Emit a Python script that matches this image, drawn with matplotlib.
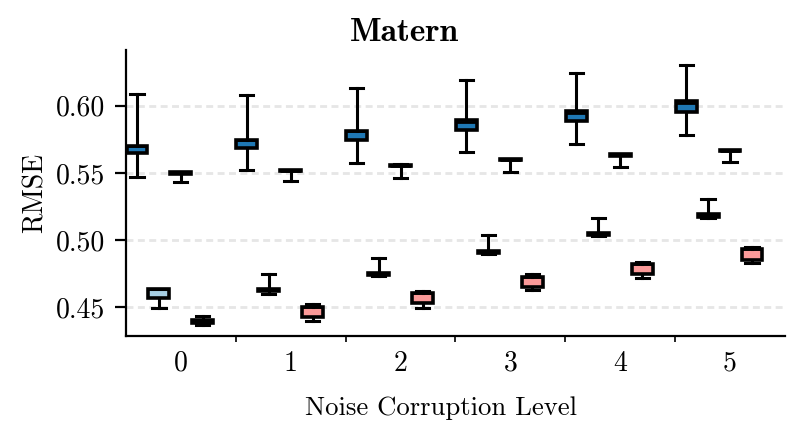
import matplotlib
matplotlib.use("Agg")
from matplotlib import pyplot as plt
from matplotlib.ticker import FixedLocator

plt.rcParams['font.family'] = 'serif'
plt.rcParams['font.serif'] = ['cmr10']
plt.rcParams['mathtext.fontset'] = 'cm'
plt.rcParams['axes.formatter.use_mathtext'] = True
plt.rcParams['font.size'] = 10

levels = [0, 1, 2, 3, 4, 5]

# series 1 (dark blue)
a_lo = [0.5470, 0.5520, 0.5577, 0.5657, 0.5714, 0.5781]
a_q1 = [0.5650, 0.5687, 0.5747, 0.5823, 0.5885, 0.5953]
a_med = [0.5702, 0.5747, 0.5809, 0.5883, 0.5950, 0.6017]
a_q3 = [0.5704, 0.5749, 0.5811, 0.5891, 0.5960, 0.6033]
a_hi = [0.6087, 0.6082, 0.6132, 0.6194, 0.6246, 0.6304]

# series 2 (light blue)
b_lo = [0.4495, 0.4602, 0.4731, 0.4898, 0.5030, 0.5166]
b_q1 = [0.4567, 0.4624, 0.4741, 0.4908, 0.5040, 0.5176]
b_med = [0.4634, 0.4630, 0.4750, 0.4914, 0.5046, 0.5185]
b_q3 = [0.4634, 0.4634, 0.4759, 0.4920, 0.5052, 0.5194]
b_hi = [0.4634, 0.4749, 0.4868, 0.5037, 0.5166, 0.5304]

# series 3 (dark red)
c_lo = [0.5435, 0.5440, 0.5465, 0.5510, 0.5545, 0.5585]
c_q1 = [0.5495, 0.5512, 0.5550, 0.5595, 0.5630, 0.5663]
c_med = [0.5503, 0.5518, 0.5555, 0.5598, 0.5634, 0.5666]
c_q3 = [0.5510, 0.5525, 0.5559, 0.5601, 0.5638, 0.5669]
c_hi = [0.5510, 0.5525, 0.5565, 0.5601, 0.5638, 0.5669]

# series 4 (light red)
d_lo = [0.4372, 0.4400, 0.4497, 0.4627, 0.4721, 0.4828]
d_q1 = [0.4381, 0.4430, 0.4535, 0.4650, 0.4747, 0.4853]
d_med = [0.4410, 0.4505, 0.4604, 0.4729, 0.4824, 0.4933]
d_q3 = [0.4410, 0.4505, 0.4604, 0.4729, 0.4824, 0.4933]
d_hi = [0.4440, 0.4522, 0.4622, 0.4746, 0.4841, 0.4950]

series = [
    (a_lo, a_q1, a_med, a_q3, a_hi, '#1f78b4'),
    (b_lo, b_q1, b_med, b_q3, b_hi, '#a6cee3'),
    (c_lo, c_q1, c_med, c_q3, c_hi, '#e31a1c'),
    (d_lo, d_q1, d_med, d_q3, d_hi, '#fb9a99'),
]
offsets = [-0.4, -0.2, 0.0, 0.2]

fig = plt.figure(figsize=(8.07 / 2, 4.42 / 2), dpi=200)
ax = fig.add_axes([0.1561, 0.2387, 0.8166, 0.6482])

for (lo, q1, med, q3, hi, col), off in zip(series, offsets):
    stats = []
    for k in range(len(levels)):
        stats.append({'whislo': lo[k], 'q1': q1[k], 'med': med[k],
                      'q3': q3[k], 'whishi': hi[k], 'fliers': []})
    ax.bxp(stats, positions=[x + off for x in levels], widths=0.19,
           capwidths=0.12,
           patch_artist=True, showfliers=False, manage_ticks=False,
           boxprops=dict(facecolor=col, edgecolor='black', linewidth=1.3),
           medianprops=dict(color='black', linewidth=1.0),
           whiskerprops=dict(color='black', linewidth=1.1),
           capprops=dict(color='black', linewidth=1.1))

ax.set_xlim(-0.5, 5.5)
ax.set_ylim(0.4284, 0.6415)
ax.set_xticks(levels)
ax.set_xticklabels([str(x) for x in levels])
ax.xaxis.set_minor_locator(FixedLocator([x + 0.5 for x in levels[:-1]]))
ax.tick_params(axis='x', which='major', length=0, pad=5)
ax.tick_params(axis='x', which='minor', length=2)
ax.tick_params(axis='y', length=4)
ax.set_yticks([0.45, 0.50, 0.55, 0.60])
ax.set_yticklabels(['0.45', '0.50', '0.55', '0.60'])

ax.spines['top'].set_visible(False)
ax.spines['right'].set_visible(False)
ax.yaxis.grid(True, color='#e6e6e6', linestyle=(0, (2.5, 1.6)), linewidth=1.0)
ax.set_axisbelow(True)

ax.set_ylabel('RMSE')
ax.yaxis.set_label_coords(-0.118, 0.5)
ax.set_xlabel('Noise Corruption Level', fontsize=9.6)
ax.xaxis.set_label_coords(0.478, -0.21)
ax.text(0.422, 1.03, 'Matern', transform=ax.transAxes, ha='center',
        va='baseline', fontsize=12, fontfamily='cmb10')

fig.savefig('out.png', dpi=200)
